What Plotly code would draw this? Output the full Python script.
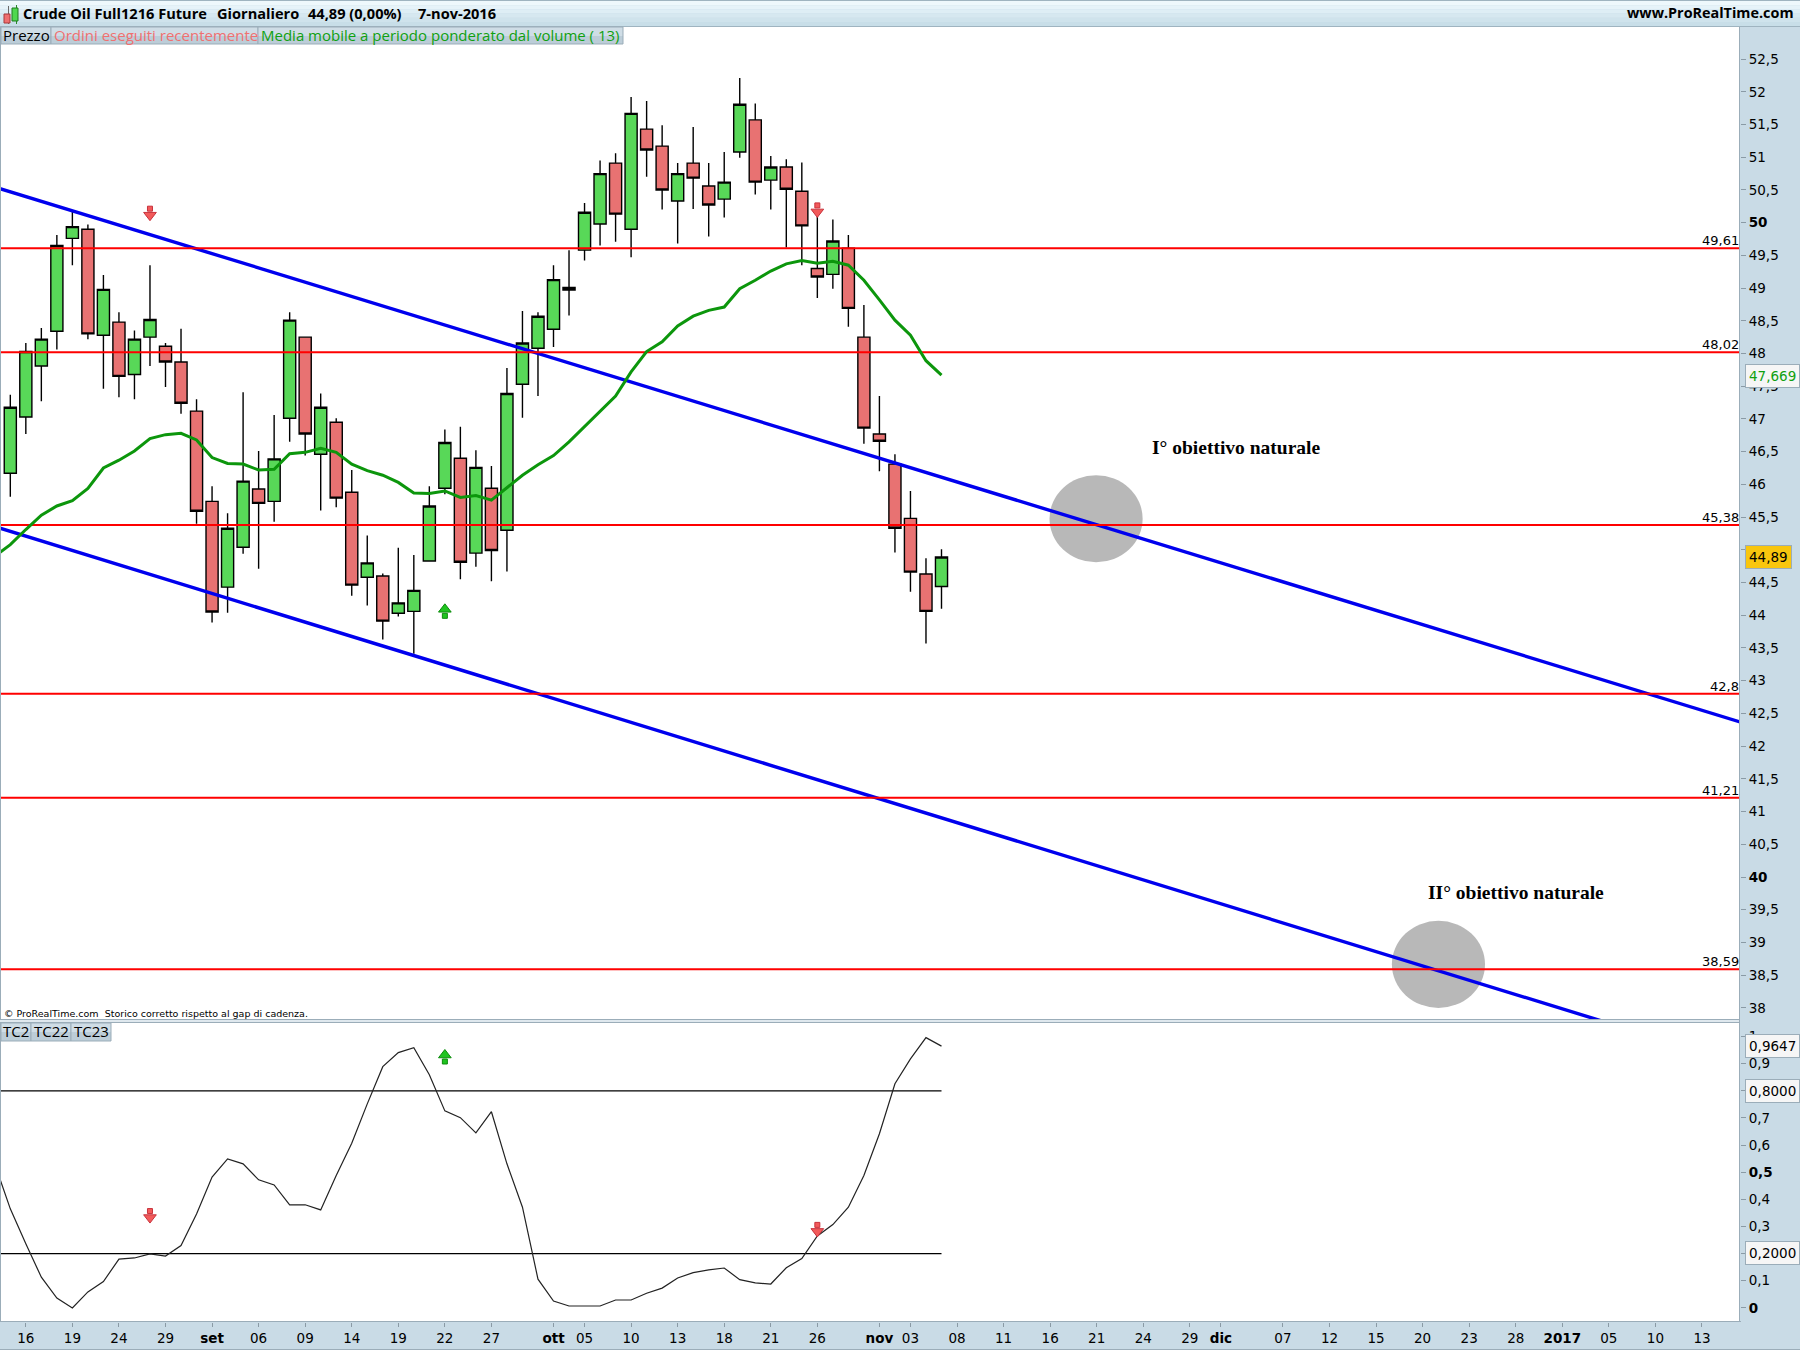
import plotly.graph_objects as go

W, H = 1800, 1350
PANEL_R = 1740
TOP_A, TOP_B = 27, 1019
LOW_A, LOW_B = 1023, 1322

# ---------- data ----------
bar_index = list(range(61))
open_ = [46.17,47.03,47.81,48.34,49.76,49.90,48.28,48.48,47.68,48.25,48.11,47.87,47.12,45.74,44.43,45.04,45.93,45.74,47.01,48.25,
         46.46,46.95,45.88,44.58,44.60,44.03,44.06,44.83,45.94,46.40,44.95,45.94,45.30,47.53,48.08,48.37,48.97,49.58,49.98,50.91,
         49.90,51.43,51.17,50.33,50.91,50.56,50.36,51.08,51.57,50.65,50.85,50.48,49.30,49.21,49.61,48.25,46.77,46.31,45.48,44.63,44.44]
high = [47.37,48.16,48.39,49.81,50.17,49.97,49.20,48.63,48.35,49.35,48.16,48.38,47.30,45.97,45.56,47.41,46.51,47.06,48.63,48.25,
        47.39,47.01,46.22,45.22,44.64,45.03,44.92,45.97,46.84,46.88,46.52,46.28,47.78,48.65,48.63,49.35,49.58,50.30,50.95,51.06,
        51.92,51.86,51.49,50.91,51.46,50.91,51.08,52.21,51.82,51.02,50.97,50.92,50.09,50.05,49.81,48.74,47.35,46.46,45.90,44.87,45.01]
low = [45.81,46.77,47.27,48.06,49.35,48.22,47.46,47.33,47.30,47.81,47.49,47.08,45.40,43.89,44.04,44.94,44.71,45.43,46.65,46.44,
       45.60,45.65,44.30,44.15,43.63,43.98,43.41,44.83,45.85,44.55,44.74,44.52,44.67,47.02,47.35,48.10,48.58,49.42,49.65,49.71,
       49.47,50.70,50.20,49.68,50.21,49.79,50.08,50.99,50.43,50.20,49.62,49.35,48.85,48.99,48.41,46.62,46.20,44.96,44.36,43.57,44.10]
close = [47.18,48.03,48.22,49.65,49.94,48.30,48.98,47.65,48.22,48.52,47.87,47.24,45.59,44.05,45.33,46.05,45.71,46.39,48.51,46.77,
         47.18,45.79,44.46,44.80,43.91,44.19,44.38,45.67,46.64,44.81,46.26,44.99,47.39,48.16,48.57,49.13,49.01,50.16,50.75,50.13,
         51.67,51.11,50.50,50.75,50.68,50.27,50.62,51.81,50.62,50.85,50.51,49.95,49.17,49.72,48.69,46.86,46.66,45.33,44.66,44.06,44.89]

line_index = list(range(-1, 61))
vwma = [44.90,45.08,45.31,45.53,45.67,45.75,45.94,46.25,46.37,46.51,46.70,46.76,46.78,46.68,46.41,46.32,46.31,46.22,46.23,46.47,46.49,
        46.55,46.49,46.31,46.21,46.14,46.03,45.87,45.86,45.90,45.80,45.83,45.76,45.95,46.14,46.30,46.44,46.65,46.88,47.12,47.35,
        47.72,48.03,48.18,48.42,48.57,48.66,48.71,48.99,49.12,49.26,49.37,49.42,49.38,49.41,49.35,49.12,48.82,48.51,48.28,47.89,47.669]
osc = [0.53,0.365,0.236,0.113,0.036,0.0,0.059,0.097,0.180,0.184,0.199,0.191,0.230,0.346,0.482,0.549,0.531,0.472,0.453,0.380,0.380,
       0.361,0.488,0.607,0.752,0.889,0.941,0.959,0.859,0.726,0.701,0.645,0.723,0.531,0.371,0.106,0.025,0.007,0.007,0.007,0.029,
       0.029,0.054,0.073,0.110,0.130,0.140,0.147,0.104,0.092,0.088,0.148,0.182,0.265,0.307,0.371,0.488,0.642,0.826,0.918,0.996,0.9647]

levels = [49.61, 48.02, 45.38, 42.8, 41.21, 38.59]
level_labels = ["49,61", "48,02", "45,38", "42,8", "41,21", "38,59"]
channel_x = [-0.664, 111.45]
channel_upper = [50.52, 42.37]
channel_lower = [45.33, 37.15]

osc_levels = [0.8, 0.2]
sell_index = [9, 52]
buy_index = [28]
sell_price = [50.16, 50.21]
buy_price = [44.045]
sell_osc = [0.344, 0.293]
buy_osc = [0.921]

targets = [("I° obiettivo naturale", 73.45, 46.56), ("II° obiettivo naturale", 91.22, 39.77)]
target_zones = [(66.96, 72.96, 44.81, 46.14), (89.02, 95.02, 38.0, 39.33)]

price_ticks = [38 + 0.5 * i for i in range(30)]
osc_ticks = [0, .1, .2, .3, .4, .5, .6, .7, .8, .9, 1]
date_ticks = [1,4,7,10,13,16,19,22,25,28,31,35,37,40,43,46,49,52,56,58,61,64,67,70,73,76,78,82,85,88,91,94,97,100,103,106,109]
date_labels = ["16","19","24","29","<b>set</b>","06","09","14","19","22","27","<b>ott</b>","05","10","13","18","21","26",
               "<b>nov</b>","03","08","11","16","21","24","29","<b>dic</b>","07","12","15","20","23","28","<b>2017</b>","05","10","13"]

GREEN_BODY, RED_BODY = "#58d858", "#e87272"
PANEL = "#c9dbe6"
EDGE = "#9badb9"
SANS = "DejaVu Sans"


def fmt(v):
    s = f"{v:g}".replace(".", ",")
    return f"<b>{s}</b>" if v == int(v) and int(v) % 10 == 0 or v == 0.5 else s


def px(x):
    return x / W


def py(y):
    return 1 - y / H


fig = go.Figure()
fig.add_trace(go.Candlestick(
    x=bar_index, open=open_, high=high, low=low, close=close, xaxis="x", yaxis="y", whiskerwidth=0,
    increasing=dict(fillcolor=GREEN_BODY, line=dict(color="#000000", width=1.4)),
    decreasing=dict(fillcolor=RED_BODY, line=dict(color="#000000", width=1.4)),
    showlegend=False, hoverinfo="skip"))

for series in (channel_upper, channel_lower):
    fig.add_trace(go.Scatter(x=channel_x, y=series, mode="lines", line=dict(color="#0000ee", width=3.4),
                             xaxis="x", yaxis="y", showlegend=False, hoverinfo="skip"))
for lv in levels:
    fig.add_trace(go.Scatter(x=channel_x, y=[lv, lv], mode="lines", line=dict(color="#ff0000", width=2),
                             xaxis="x", yaxis="y", showlegend=False, hoverinfo="skip"))
fig.add_trace(go.Scatter(x=line_index, y=vwma, mode="lines", line=dict(color="#0c960c", width=3),
                         xaxis="x", yaxis="y", showlegend=False, hoverinfo="skip"))

for lv in osc_levels:
    fig.add_trace(go.Scatter(x=[channel_x[0], bar_index[-1]], y=[lv, lv], mode="lines", line=dict(color="#000000", width=1.3),
                             xaxis="x2", yaxis="y2", showlegend=False, hoverinfo="skip"))
fig.add_trace(go.Scatter(x=line_index, y=osc, mode="lines", line=dict(color="#222222", width=1.2),
                         xaxis="x2", yaxis="y2", showlegend=False, hoverinfo="skip"))


def arrows(xs, ys, direction, scale, axis, fill, edge):
    # head and shaft are separate markers, placed a few pixels apart via the axis scale
    sign = 1 if direction == "up" else -1
    yaxis = "y" if axis == "" else "y2"
    xaxis = "x" if axis == "" else "x2"
    fig.add_trace(go.Scatter(x=xs, y=[v - sign * 3.5 / scale for v in ys], mode="markers", xaxis=xaxis, yaxis=yaxis,
                             marker=dict(symbol="square", size=5, color=fill, line=dict(color=edge, width=1)),
                             showlegend=False, hoverinfo="skip"))
    fig.add_trace(go.Scatter(x=xs, y=[v + sign * 3 / scale for v in ys], mode="markers", xaxis=xaxis, yaxis=yaxis,
                             marker=dict(symbol=f"triangle-{direction}", size=11, color=fill, line=dict(color=edge, width=1)),
                             showlegend=False, hoverinfo="skip"))


arrows(sell_index, sell_price, "down", 65.44, "", "#f25a5a", "#c8323c")
arrows(buy_index, buy_price, "up", 65.44, "", "#1fc41f", "#0c8c0c")
arrows(sell_index, sell_osc, "down", 271, "2", "#f25a5a", "#c8323c")
arrows(buy_index, buy_osc, "up", 271, "2", "#1fc41f", "#0c8c0c")

shapes = []


def rect(x0, y0, x1, y1, fill, line=None, layer="below"):
    shapes.append(dict(type="rect", xref="paper", yref="paper", x0=px(x0), x1=px(x1), y0=py(y0), y1=py(y1),
                       fillcolor=fill, line=dict(width=1 if line else 0, color=line or fill), layer=layer))


# grey target ellipses, behind the lines
for (x0, x1, y0, y1) in target_zones:
    shapes.append(dict(type="circle", xref="x", yref="y", x0=x0, x1=x1, y0=y0, y1=y1,
                       fillcolor="#b8b8b8", line=dict(width=0), layer="below"))

# header band
for i, c in enumerate(["#9fb4c0", "#eef8fc", "#e6f3f9", "#deeef5", "#d6e8f0", "#cfe3ec", "#c8dee8"]):
    y0 = 0 if i == 0 else 1 + (i - 1) * 4.2
    y1 = 1 if i == 0 else 1 + i * 4.2
    rect(0, y0, W, y1, c, layer="above")
rect(0, 26, W, 27, "#9fb4c0", layer="above")
# left border, panel separators
rect(0, 27, 1, LOW_B, EDGE, layer="above")
rect(0, TOP_B, PANEL_R, LOW_A, "#dfe8ee", layer="above")
rect(0, TOP_B, PANEL_R, TOP_B + 1, EDGE, layer="above")
rect(0, LOW_A - 1, PANEL_R, LOW_A, EDGE, layer="above")
rect(PANEL_R - 1, 27, PANEL_R, LOW_B, EDGE, layer="above")
rect(0, LOW_B - 1, PANEL_R + 1, LOW_B, EDGE, layer="above")
rect(0, H - 1, W, H, EDGE, layer="above")

# indicator tags
for (x0, x1) in [(1, 51), (51, 258), (258, 623)]:
    rect(x0, 27, x1, 36, "#cfdde6", layer="above")
    rect(x0, 36, x1, 44, "#bccdd8", layer="above")
    shapes.append(dict(type="rect", xref="paper", yref="paper", x0=px(x0), x1=px(x1), y0=py(27), y1=py(44),
                       line=dict(color="#9badb9", width=1), layer="above"))
for (x0, x1) in [(1, 31), (31, 71), (71, 111)]:
    rect(x0, 1023, x1, 1032, "#cfdde6", layer="above")
    rect(x0, 1032, x1, 1041, "#bccdd8", layer="above")
    shapes.append(dict(type="rect", xref="paper", yref="paper", x0=px(x0), x1=px(x1), y0=py(1023), y1=py(1041),
                       line=dict(color="#9badb9", width=1), layer="above"))

# small candle icon in the header
rect(8, 6, 9, 24, "#6a6a6a", layer="above")
rect(4, 14, 10, 23, "#ef6f6f", "#a83a3a", layer="above")
rect(16, 5, 17, 24, "#2a8a2a", layer="above")
rect(12, 8, 18, 21, "#4fd84f", "#1f7a1f", layer="above")

ann = []


def text(x, y, s, size=14, color="#000000", family=SANS, anchor="left", pad=0, **kw):
    ann.append(dict(xref="paper", yref="paper", x=px(x), y=py(y), text=s, showarrow=False, xanchor=anchor, yanchor="middle",
                    font=dict(size=size, color=color, family=family), borderpad=pad, **kw))


text(22, 12.5, "<b>Crude Oil Full1216 Future</b>", 14.6, family="Open Sans")
text(216, 12.5, "<b>Giornaliero</b>", 14.6, family="Open Sans")
text(307, 12.5, "<b>44,89 (0,00%)</b>", 14.6, family="Open Sans")
text(417, 12.5, "<b>7-nov-2016</b>", 14.6, family="Open Sans")
text(1795, 12.5, "<b>www.ProRealTime.com</b>", 14.4, family="Open Sans", anchor="right")

text(2, 35, "Prezzo", 15, family="Open Sans")
text(53, 35, "Ordini eseguiti recentemente", 15, "#f07070", family="Open Sans")
text(260, 35, "Media mobile a periodo ponderato dal volume ( 13)", 15, "#10a010", family="Open Sans")
text(2, 1030.5, "TC2", 15, family="Open Sans")
text(33, 1030.5, "TC22", 15, family="Open Sans")
text(73, 1030.5, "TC23", 15, family="Open Sans")
text(3, 1013.5, "© ProRealTime.com  Storico corretto rispetto al gap di cadenza.", 9.5)

for s, x, y in targets:
    ann.append(dict(xref="x", yref="y", x=x, y=y, text=f"<b>{s}</b>", showarrow=False,
                    font=dict(size=19.5, color="#000000", family="Liberation Serif"), xanchor="left"))

for lv, lab in zip(levels, level_labels):
    ann.append(dict(xref="paper", yref="y", x=px(1740), y=lv, text=lab, showarrow=False, xanchor="right", yanchor="bottom",
                    yshift=-1, font=dict(size=13, color="#000000", family=SANS), borderpad=0))

for y, lab, col, bg in [(375.5, "47,669", "#10a010", "#f6f6f6"), (557, "44,89", "#000000", "#f9c60e"),
                        (1045.5, "0,9647", "#000000", "#f6f6f6"), (1091, "0,8000", "#000000", "#f6f6f6"),
                        (1253, "0,2000", "#000000", "#f6f6f6")]:
    text(1745, y, lab, 13.5, col, pad=3, bgcolor=bg, bordercolor=EDGE, borderwidth=1)

xr = [channel_x[0], channel_x[1]]
axis_common = dict(showgrid=False, zeroline=False, showline=False, ticks="outside", ticklen=5, tickwidth=1, tickcolor="#8a9aa5",
                   tickfont=dict(family=SANS, size=13.5, color="#000000"))
fig.update_layout(
    width=W, height=H, autosize=False, margin=dict(l=0, r=0, t=0, b=0),
    paper_bgcolor=PANEL, plot_bgcolor="#ffffff", showlegend=False, boxgap=0.22, boxgroupgap=0,
    xaxis=dict(domain=[0, px(PANEL_R)], anchor="y", range=xr, showticklabels=False, ticks="", showgrid=False, zeroline=False,
               rangeslider=dict(visible=False)),
    yaxis=dict(domain=[py(TOP_B), py(TOP_A)], anchor="x", side="right", range=[37.83, 52.99],
               tickmode="array", tickvals=price_ticks, ticktext=[fmt(v) for v in price_ticks], **axis_common),
    xaxis2=dict(domain=[0, px(PANEL_R)], anchor="y2", range=xr, tickmode="array", tickvals=date_ticks, ticktext=date_labels,
                **{**axis_common, "ticklen": 4}),
    yaxis2=dict(domain=[py(LOW_B), py(LOW_A)], anchor="x2", side="right", range=[-0.052, 1.05],
                tickmode="array", tickvals=osc_ticks, ticktext=[fmt(v) for v in osc_ticks], **axis_common),
    shapes=shapes, annotations=ann,
)
fig.write_html("out.html", config={"displayModeBar": False},
               post_script="document.body.style.margin='0';document.body.style.overflow='hidden';")
